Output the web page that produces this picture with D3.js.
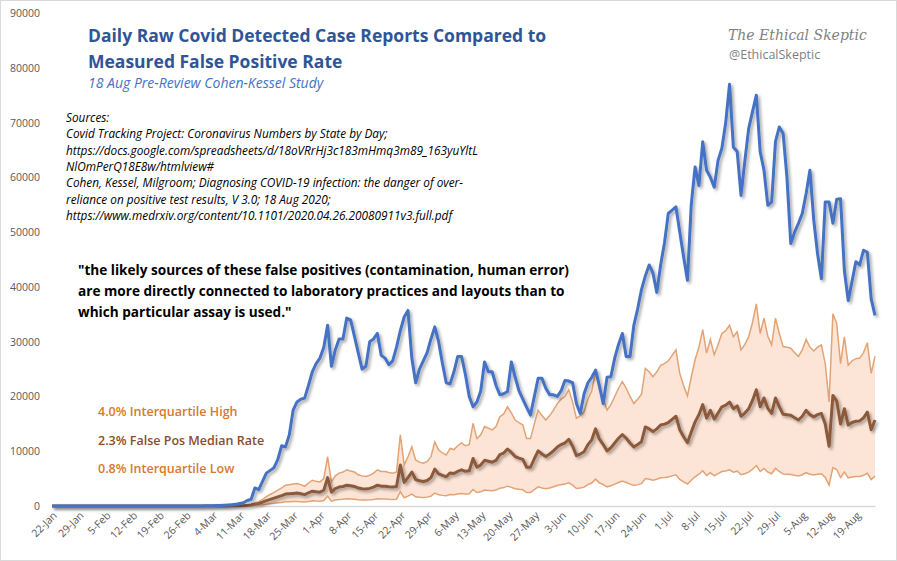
<!DOCTYPE html>
<html><head><meta charset="utf-8">
<script src="https://cdn.jsdelivr.net/npm/d3@7"></script>
<style>body{margin:0;background:#fff}svg{display:block}</style>
</head><body>
<svg id="c" width="897" height="561"></svg>
<script>
const startDate = "2020-01-22";
// daily detected cases, by month
const casesJan = [0,0,1,0,2,0,0,0,0,1];
const casesFeb = [1,0,0,0,1,0,0,0,0,0,1,0,0,0,0,0,0,0,0,0,2,0,0,5,10,2,5,10,12];
const casesMar = [20,30,40,60,80,100,150,200,250,300,450,600,1000,1200,3300,3000,4500,6000,6500,7000,8500,11000,10800,13000,17500,19000,19500,19700,22000,24500,26000];
const casesApr = [27000,29000,33000,25500,28500,30500,30500,34300,34000,31000,28000,25000,25500,30000,30500,31500,27500,27000,25800,26500,29000,32000,34500,35700,27000,22500,25000,26500,28000,30500];
const casesMay = [32700,30000,26000,22500,22300,24500,27300,27300,24000,20000,18100,19000,21000,26300,24500,24500,22000,20300,20500,20900,26300,23500,21000,19500,18000,16600,20000,23300,23300,21500,20300];
const casesJun = [20300,20000,21000,22900,22800,22500,18700,16900,20500,22500,23500,24800,22000,18700,23500,23600,27000,29500,31500,27300,27300,33000,36000,39500,42000,44000,42500,39000,44000,48000];
const casesJul = [53400,54000,54600,50000,45500,41200,55000,61900,58500,66500,61300,60000,58200,63100,65300,70000,77000,65500,64700,56700,63000,68900,72000,75000,64700,61300,54900,55500,66500,69200,68000];
const casesAug = [60000,47900,50000,51600,53400,57000,61300,52200,46000,41500,55500,55500,51600,56000,56100,43000,37500,41000,44600,44000,46700,46300,37800,34800];
// false positives at the 4.0% interquartile-high rate, by month
const fpHighJan = [0,0,0,0,0,0,0,0,0,0];
const fpHighFeb = [0,0,0,0,0,0,0,0,0,0,0,0,0,0,0,0,0,0,0,0,0,0,0,0,0,0,0,0,0];
const fpHighMar = [5,5,10,10,15,20,25,30,40,50,60,80,120,300,600,800,1200,1700,2100,2500,2900,3300,3800,3900,4000,4100,3900,3600,4200,4700,4500];
const fpHighApr = [4400,5000,9000,4400,5500,6000,6200,6600,6400,6200,5700,5500,5400,5600,6000,6600,6300,6300,6100,6000,6200,13000,7500,9000,10800,8400,8000,7800,8100,9000];
const fpHighMay = [11700,10200,9700,9300,10500,10300,11000,11500,11000,11200,15100,12300,13000,14500,14200,13900,14500,16300,16800,18100,17000,15700,15200,14800,12300,12300,15000,17500,16500,15700,16500];
const fpHighJun = [17500,18700,19500,20000,21200,19000,16000,16500,17200,19500,21000,24500,21200,19500,17500,18500,20000,21500,22700,21500,20000,18700,19500,20400,25100,24500,23600,24500,25700,26000];
const fpHighJul = [26500,27500,28500,24200,22000,20100,23500,26700,29000,32200,27900,30400,27600,29500,31500,32000,33000,30900,31800,28500,29500,30900,33500,36900,31500,34300,31000,29400,34300,31500,29100];
const fpHighAug = [29000,28800,28000,27300,28500,30400,29000,28300,29000,29400,26000,19000,35100,33300,26000,30900,25700,26500,26900,27000,28000,29800,24200,27300];
const rateHigh = 0.040, rateMedian = 0.023, rateLow = 0.008;
const yTicks = [0,10000,20000,30000,40000,50000,60000,70000,80000,90000];
const legendLabels = ["4.0% Interquartile High","2.3% False Pos Median Rate","0.8% Interquartile Low"];

const cases = [].concat(casesJan,casesFeb,casesMar,casesApr,casesMay,casesJun,casesJul,casesAug);
const fpHigh = [].concat(fpHighJan,fpHighFeb,fpHighMar,fpHighApr,fpHighMay,fpHighJun,fpHighJul,fpHighAug);
const t0 = new Date(startDate+"T00:00:00");
const data = cases.map((c,i)=>{
  const tests = fpHigh[i]/rateHigh;
  return {date:d3.timeDay.offset(t0,i), cases:c, high:tests*rateHigh, med:tests*rateMedian, low:tests*rateLow};
});

const svg = d3.select("#c");
svg.append("rect").attr("x",0.5).attr("y",0.5).attr("width",896).attr("height",560).attr("fill","#fff").attr("stroke","#d9d9d9");
const defs = svg.append("defs");
const f = defs.append("filter").attr("id","sh").attr("x","-5%").attr("y","-5%").attr("width","110%").attr("height","120%");
f.append("feDropShadow").attr("dx",2).attr("dy",2).attr("stdDeviation",1.5).attr("flood-color","#000").attr("flood-opacity",0.35);

const x = d3.scaleTime().domain([data[0].date, data[data.length-1].date]).range([52, 875]);
const y = d3.scaleLinear().domain([0,90000]).range([506, 13]);
const tf = "'Open Sans', sans-serif";

svg.append("g").selectAll("text").data(yTicks).join("text")
  .attr("x",40).attr("y",d=>y(d)+4).attr("text-anchor","end")
  .attr("font-family",tf).attr("font-size",10.5).attr("fill","#595959").text(d=>d);

const fmt = d3.timeFormat("%-d-%b");
const xa = svg.append("g").attr("transform","translate(0,506)")
  .call(d3.axisBottom(x).tickValues(d3.range(0,cases.length,7).map(i=>d3.timeDay.offset(t0,i))).tickFormat(fmt).tickSize(0));
xa.select(".domain").attr("stroke","#d9d9d9").attr("stroke-width",1.5);
xa.selectAll("text").attr("font-family",tf).attr("font-size",10.5).attr("fill","#595959")
  .attr("text-anchor","end").attr("dy",0).attr("transform","translate(3,8) rotate(-45)");

svg.append("path").datum(data).attr("fill","#fce4d6")
  .attr("d", d3.area().x(d=>x(d.date)).y0(d=>y(d.low)).y1(d=>y(d.high)));
const line = k => d3.line().x(d=>x(d.date)).y(d=>y(d[k]));
svg.append("path").datum(data).attr("fill","none").attr("stroke","#e3a374").attr("stroke-width",1.5).attr("d",line("high"));
svg.append("path").datum(data).attr("fill","none").attr("stroke","#e3a374").attr("stroke-width",1.5).attr("d",line("low"));
svg.append("path").datum(data).attr("fill","none").attr("stroke","#8b5a3c").attr("stroke-width",3).attr("stroke-linejoin","round").attr("filter","url(#sh)").attr("d",line("med"));
svg.append("path").datum(data).attr("fill","none").attr("stroke","#4472c4").attr("stroke-width",3).attr("stroke-linejoin","round").attr("filter","url(#sh)").attr("d",line("cases"));

svg.append("text").attr("x",88).attr("y",42).attr("font-family",tf).attr("font-weight","bold").attr("font-size",17.5).attr("fill","#2f5597").text("Daily Raw Covid Detected Case Reports Compared to");
svg.append("text").attr("x",88).attr("y",68).attr("font-family",tf).attr("font-weight","bold").attr("font-size",17.5).attr("fill","#2f5597").text("Measured False Positive Rate");
svg.append("text").attr("x",88).attr("y",88).attr("font-family",tf).attr("font-style","italic").attr("font-size",14).attr("fill","#4472c4").text("18 Aug Pre-Review Cohen-Kessel Study");
svg.append("text").attr("x",728).attr("y",40).attr("font-family","'DejaVu Serif', serif").attr("font-style","italic").attr("font-size",14).attr("fill","#7f7f7f").text("The Ethical Skeptic");
svg.append("text").attr("x",729).attr("y",59).attr("font-family",tf).attr("font-size",12.5).attr("fill","#7f7f7f").text("@EthicalSkeptic");

const src = ["Sources:","Covid Tracking Project: Coronavirus Numbers by State by Day;","https://docs.google.com/spreadsheets/d/18oVRrHj3c183mHmq3m89_163yuYltL","NlOmPerQ18E8w/htmlview#","Cohen, Kessel,  Milgroom; Diagnosing COVID-19 infection: the danger of over-","reliance  on positive test  results, V 3.0; 18 Aug 2020;","https://www.medrxiv.org/content/10.1101/2020.04.26.20080911v3.full.pdf"];
svg.append("g").selectAll("text").data(src).join("text").attr("x",66).attr("y",(d,i)=>122+i*16.3)
  .attr("font-family",tf).attr("font-style","italic").attr("font-size",11.8).attr("fill","#000").text(d=>d);

const quote = ["\"the likely sources of these false positives (contamination, human error)","are more directly connected to laboratory practices and layouts than to","which particular assay is used.\""];
svg.append("g").selectAll("text").data(quote).join("text").attr("x",78).attr("y",(d,i)=>275+i*21)
  .attr("font-family",tf).attr("font-weight","bold").attr("font-size",13.6).attr("fill","#000").text(d=>d);

const lc = ["#d9782d","#8b4c2a","#d9782d"];
svg.append("g").selectAll("text").data(legendLabels).join("text").attr("x",98).attr("y",(d,i)=>416+i*28.5)
  .attr("font-family",tf).attr("font-weight",600).attr("font-size",12.5).attr("fill",(d,i)=>lc[i]).text(d=>d);
</script>
</body></html>
